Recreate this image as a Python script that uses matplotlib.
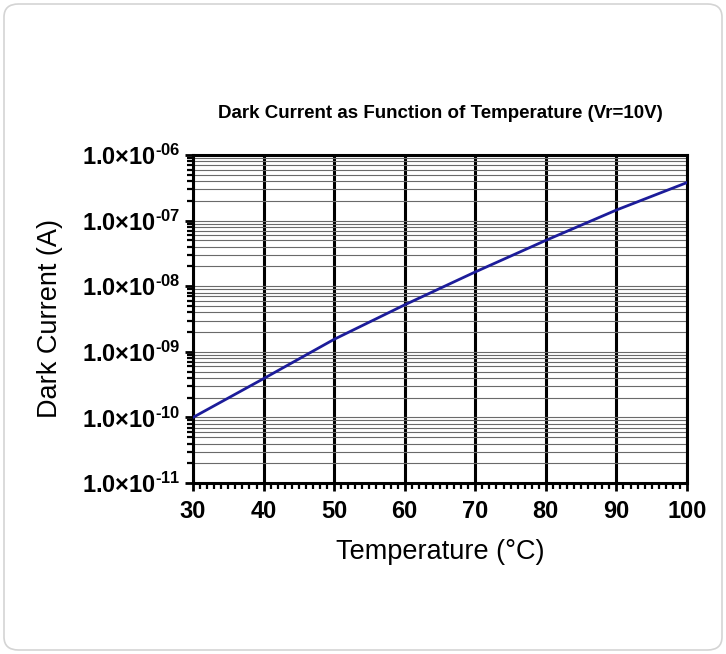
import math
import matplotlib
matplotlib.use("Agg")
import matplotlib.pyplot as plt
from matplotlib.patches import FancyBboxPatch
from matplotlib.ticker import FixedLocator, FuncFormatter, LogLocator, MultipleLocator

# values
temperature = [30, 40, 50, 60, 70, 80, 90, 100]
dark_current = [1.0e-10, 3.9e-10, 1.55e-9, 5.2e-9, 1.65e-8, 5.0e-8, 1.45e-7, 3.8e-7]
decades = [-11, -10, -9, -8, -7, -6]
title = "Dark Current as Function of Temperature (Vr=10V)"

plt.rcParams["font.family"] = ["Liberation Sans", "DejaVu Sans"]
plt.rcParams["mathtext.fontset"] = "custom"
plt.rcParams["mathtext.rm"] = "Liberation Sans:bold"
plt.rcParams["mathtext.bf"] = "Liberation Sans:bold"


def decade_label(v, pos):
    n = int(round(-math.log10(v)))
    return "$\\mathrm{1.0{\\times}10^{\u2010%02d}}$" % n


fig = plt.figure(figsize=(7.26, 6.54), dpi=100)

# card outline
card = FancyBboxPatch((4 / 726, 4 / 654), 718 / 726, 646 / 654,
                      boxstyle="round,pad=0,rounding_size=0.02",
                      transform=fig.transFigure, facecolor="white",
                      edgecolor="#d4d4d4", linewidth=1.2, zorder=-10)
fig.patches.append(card)

ax = fig.add_axes([193 / 726, 171 / 654, 494 / 726, 328 / 654])
ax.set_yscale("log")
ax.set_xlim(30, 100)
ax.set_ylim(1e-11, 1e-6)

# grid
ax.yaxis.set_major_locator(FixedLocator([10.0 ** d for d in decades]))
ax.yaxis.set_minor_locator(LogLocator(base=10, subs=range(2, 10), numticks=20))
ax.yaxis.set_major_formatter(FuncFormatter(decade_label))
ax.yaxis.set_minor_formatter(FuncFormatter(lambda v, p: ""))
ax.xaxis.set_major_locator(MultipleLocator(10))
ax.xaxis.set_minor_locator(MultipleLocator(1))

ax.grid(True, which="both", axis="y", color="#6a6a6a", linewidth=0.8)
ax.grid(True, which="major", axis="x", color="black", linewidth=2.2)

ax.plot(temperature, dark_current, color="#1c1c9a", linewidth=2.0, zorder=5)

for s in ax.spines.values():
    s.set_linewidth(2.2)

ax.tick_params(axis="both", which="major", direction="out", length=6, width=2,
               labelsize=17, pad=3)
ax.tick_params(axis="x", which="major", pad=6)
ax.tick_params(axis="both", which="minor", direction="out", length=4, width=1.6)
for lab in ax.get_xticklabels():
    lab.set_fontweight("bold")

ax.set_title(title, fontsize=13.5, fontweight="bold", pad=27)
ax.set_xlabel("Temperature (°C)", fontsize=19.5, labelpad=12)
ax.set_ylabel("Dark Current (A)", fontsize=19.5, labelpad=14)

fig.savefig("out.png", dpi=100)
